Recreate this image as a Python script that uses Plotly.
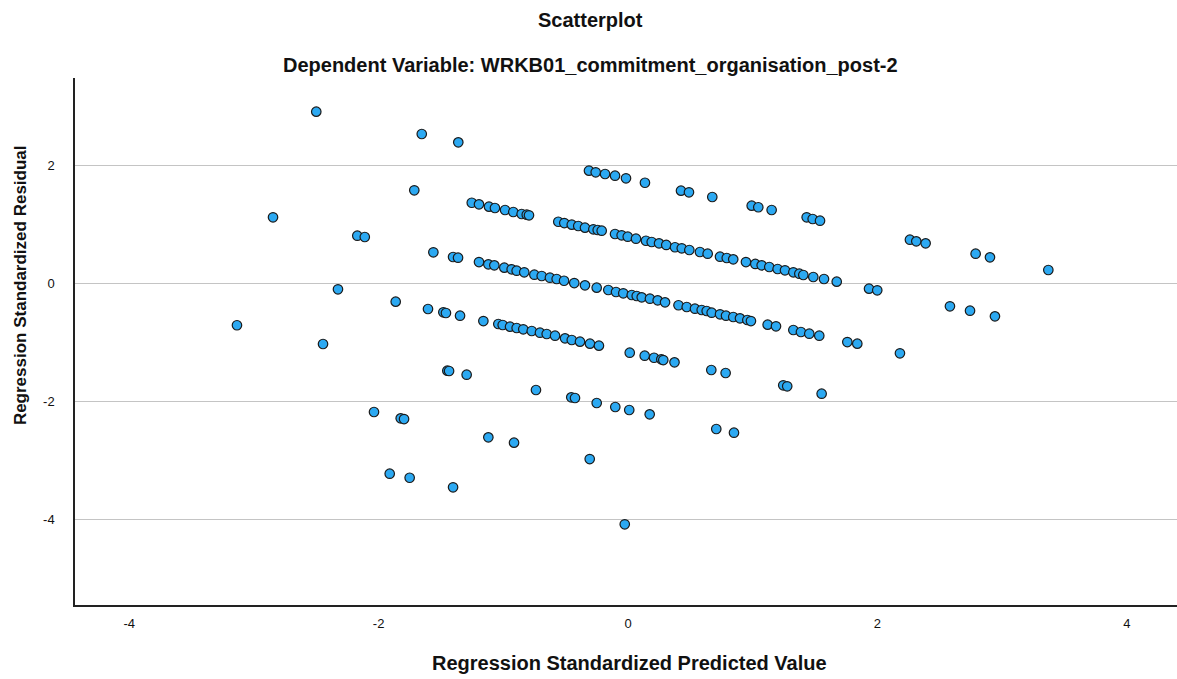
import plotly.graph_objects as go

# Regression standardized predicted values (x) and standardized residuals (y)
predicted = [
    # residual level A
    -2.500, -1.654, -1.361, -0.313, -0.259, -0.184, -0.104, -0.016, 0.136, 0.425, 0.489, 0.676,
    0.992, 1.045, 1.152, 1.433, 1.481, 1.540, 2.261, 2.312, 2.387, 2.788, 2.903, 3.371,
    # level B
    -1.714, -1.253, -1.195, -1.115, -1.067, -0.986, -0.920, -0.853, -0.812, -0.794,
    -0.559, -0.511, -0.451, -0.399, -0.345, -0.278, -0.243, -0.211,
    -0.104, -0.051, -0.002, 0.064, 0.144, 0.190, 0.249, 0.307, 0.377, 0.431, 0.492, 0.577,
    0.639, 0.738, 0.792, 0.844, 0.946, 1.021, 1.072, 1.133, 1.200, 1.259, 1.326, 1.374,
    1.406, 1.486, 1.572, 1.674, 1.933, 1.999, 2.582, 2.743, 2.943,
    # level C
    -2.847, -2.171, -2.111, -1.561, -1.403, -1.363, -1.195, -1.120, -1.072, -0.992, -0.933,
    -0.893, -0.832, -0.751, -0.692, -0.626, -0.572, -0.513, -0.431, -0.345, -0.251, -0.158,
    -0.096, -0.038, 0.030, 0.070, 0.110, 0.176, 0.238, 0.297, 0.405, 0.471, 0.537, 0.591,
    0.631, 0.671, 0.738, 0.786, 0.844, 0.898, 0.957, 0.986, 1.120, 1.187, 1.326, 1.387,
    1.454, 1.534, 1.759, 1.839, 2.181,
    # level D
    -2.326, -1.863, -1.604, -1.481, -1.460, -1.347, -1.160, -1.040, -1.005, -0.946, -0.893,
    -0.840, -0.772, -0.706, -0.652, -0.585, -0.505, -0.451, -0.385, -0.305, -0.233, 0.014,
    0.134, 0.209, 0.267, 0.283, 0.373, 0.668, 0.783, 1.245, 1.277, 1.553,
    # level E
    -3.136, -2.446, -1.449, -1.435, -1.294, -0.738, -0.455, -0.425, -0.251, -0.102, 0.010,
    0.174, 0.708, 0.850,
    # level F
    -2.037, -1.823, -1.796, -1.120, -0.914, -0.307,
    # level G
    -1.911, -1.751, -1.403, -0.026,
]

residual = [
    # level A
    2.912, 2.534, 2.393, 1.912, 1.885, 1.856, 1.827, 1.783, 1.708, 1.573, 1.546, 1.466,
    1.319, 1.292, 1.246, 1.122, 1.093, 1.064, 0.742, 0.715, 0.681, 0.505, 0.444, 0.229,
    # level B
    1.580, 1.369, 1.342, 1.302, 1.280, 1.246, 1.212, 1.178, 1.166, 1.156,
    1.047, 1.025, 0.997, 0.975, 0.946, 0.919, 0.907, 0.895,
    0.839, 0.817, 0.793, 0.759, 0.725, 0.703, 0.681, 0.653, 0.614, 0.597, 0.568, 0.534,
    0.505, 0.454, 0.432, 0.410, 0.364, 0.331, 0.308, 0.280, 0.246, 0.224, 0.190, 0.166,
    0.144, 0.110, 0.076, 0.031, -0.088, -0.115, -0.386, -0.461, -0.556,
    # level C
    1.122, 0.810, 0.788, 0.529, 0.449, 0.437, 0.364, 0.325, 0.308, 0.268, 0.241,
    0.217, 0.190, 0.149, 0.127, 0.098, 0.076, 0.047, 0.008, -0.031, -0.071, -0.110,
    -0.144, -0.166, -0.195, -0.212, -0.234, -0.258, -0.285, -0.319, -0.369, -0.398, -0.427, -0.449,
    -0.466, -0.495, -0.522, -0.546, -0.568, -0.590, -0.619, -0.636, -0.698, -0.725, -0.788, -0.822,
    -0.851, -0.885, -0.992, -1.020, -1.183,
    # level D
    -0.098, -0.308, -0.432, -0.488, -0.500, -0.546, -0.636, -0.686, -0.703, -0.732, -0.754,
    -0.776, -0.805, -0.834, -0.856, -0.885, -0.929, -0.958, -0.986, -1.020, -1.054, -1.173,
    -1.224, -1.258, -1.285, -1.297, -1.336, -1.466, -1.517, -1.725, -1.742, -1.868,
    # level E
    -0.708, -1.025, -1.478, -1.483, -1.546, -1.805, -1.929, -1.941, -2.025, -2.093, -2.144,
    -2.217, -2.466, -2.529,
    # level F
    -2.178, -2.285, -2.297, -2.607, -2.698, -2.975,
    # level G
    -3.224, -3.292, -3.454, -4.081,
]

x_ticks = [-4, -2, 0, 2, 4]
y_ticks = [-4, -2, 0, 2]

chart_title = "Scatterplot"
chart_subtitle = "Dependent Variable: WRKB01_commitment_organisation_post-2"
x_title = "Regression Standardized Predicted Value"
y_title = "Regression Standardized Residual"

FONT = "Liberation Sans, Arial, sans-serif"

fig = go.Figure()
fig.add_trace(go.Scatter(
    x=predicted, y=residual, mode="markers",
    marker=dict(size=9.5, color="#2ca9f2", line=dict(color="#1a1a1a", width=1.2)),
    hoverinfo="x+y", showlegend=False,
))

fig.update_layout(
    width=1177, height=679,
    margin=dict(l=75, r=0, t=78, b=74),
    paper_bgcolor="white", plot_bgcolor="white",
    font=dict(family=FONT, color="#222222"),
    xaxis=dict(
        range=[-4.435, 4.403], tickvals=x_ticks, ticktext=[str(v) for v in x_ticks],
        showgrid=False, zeroline=False, showline=True, linecolor="#222222", linewidth=1.5,
        ticks="", tickfont=dict(size=13, family=FONT, color="#111111"), ticklabelstandoff=6,
    ),
    yaxis=dict(
        range=[-5.449, 3.483], tickvals=y_ticks, ticktext=[str(v) for v in y_ticks],
        showgrid=True, gridcolor="#c4c4c4", gridwidth=1, zeroline=False,
        showline=True, linecolor="#222222", linewidth=1.5,
        ticks="", tickfont=dict(size=13, family=FONT, color="#111111"), ticklabelstandoff=16,
    ),
    annotations=[
        dict(text="<b>%s</b>" % chart_title, xref="paper", yref="paper", x=0.468, y=1.110,
             xanchor="center", yanchor="middle", showarrow=False,
             font=dict(size=20, family=FONT, color="#111111")),
        dict(text="<b>%s</b>" % chart_subtitle, xref="paper", yref="paper", x=0.468, y=1.0247,
             xanchor="center", yanchor="middle", showarrow=False,
             font=dict(size=20, family=FONT, color="#111111")),
        dict(text="<b>%s</b>" % x_title, xref="paper", yref="paper", x=0.5036, y=-0.110,
             xanchor="center", yanchor="middle", showarrow=False,
             font=dict(size=20, family=FONT, color="#111111")),
        dict(text="<b>%s</b>" % y_title, xref="paper", yref="paper", x=-0.0499, y=0.607,
             xanchor="center", yanchor="middle", showarrow=False, textangle=-90,
             font=dict(size=17, family=FONT, color="#111111")),
    ],
)

fig.write_html("out.html")
